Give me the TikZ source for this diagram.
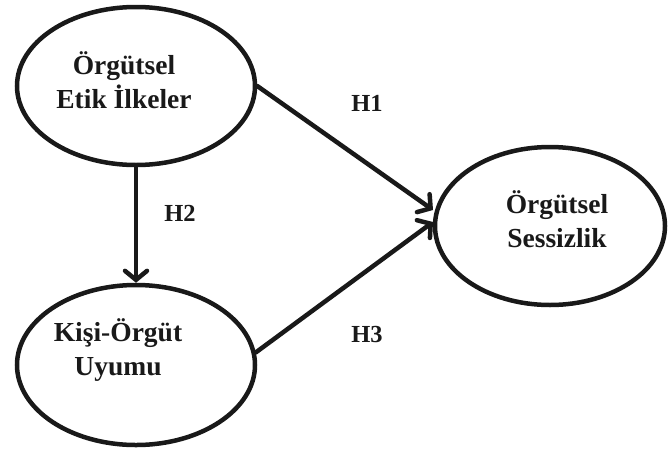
\documentclass[tikz,border=0pt]{standalone}
\usepackage{fontspec}
\setmainfont{Liberation Serif}
\usetikzlibrary{shapes.geometric,arrows.meta}
\tikzset{
  oval/.style={draw=black!90, line width=4.5pt, ellipse, inner sep=0pt},
  lbl/.style={font=\fontsize{27.5}{34}\selectfont\bfseries, align=center, text=black!90},
  hyp/.style={font=\fontsize{24.5}{28}\selectfont\bfseries, text=black!90},
  link/.style={draw=black!90, line width=4.5pt, line cap=round,
    -{Straight Barb[length=9pt,width=22pt,line cap=round]}}
}
\begin{document}
\begin{tikzpicture}[x=1pt,y=-1pt]
\useasboundingbox (0,0) rectangle (668,450);
\node[oval, minimum width=238pt, minimum height=158pt] (a) at (136,86) {};
\node[oval, minimum width=238pt, minimum height=160pt] (b) at (136,365) {};
\node[oval, minimum width=230pt, minimum height=158pt] (c) at (550,226) {};
\node[lbl] (ta) at (124,80) {Örgütsel\\Etik İlkeler};
\node[lbl] (tb) at (118,350) {Kişi-Örgüt\\Uyumu};
\node[lbl] (tc) at (557,219) {Örgütsel\\Sessizlik};
\coordinate (e1) at (433,210);
\coordinate (e3) at (433,222);
\draw[link] (a.east) -- (e1);
\draw[link] (b.6) -- (e3);
\draw[link] (a.south) -- (b.north);
\node[hyp] (h1) at (367,103) {H1};
\node[hyp] (h2) at (180,213) {H2};
\node[hyp] (h3) at (367,335) {H3};
\end{tikzpicture}
\end{document}
